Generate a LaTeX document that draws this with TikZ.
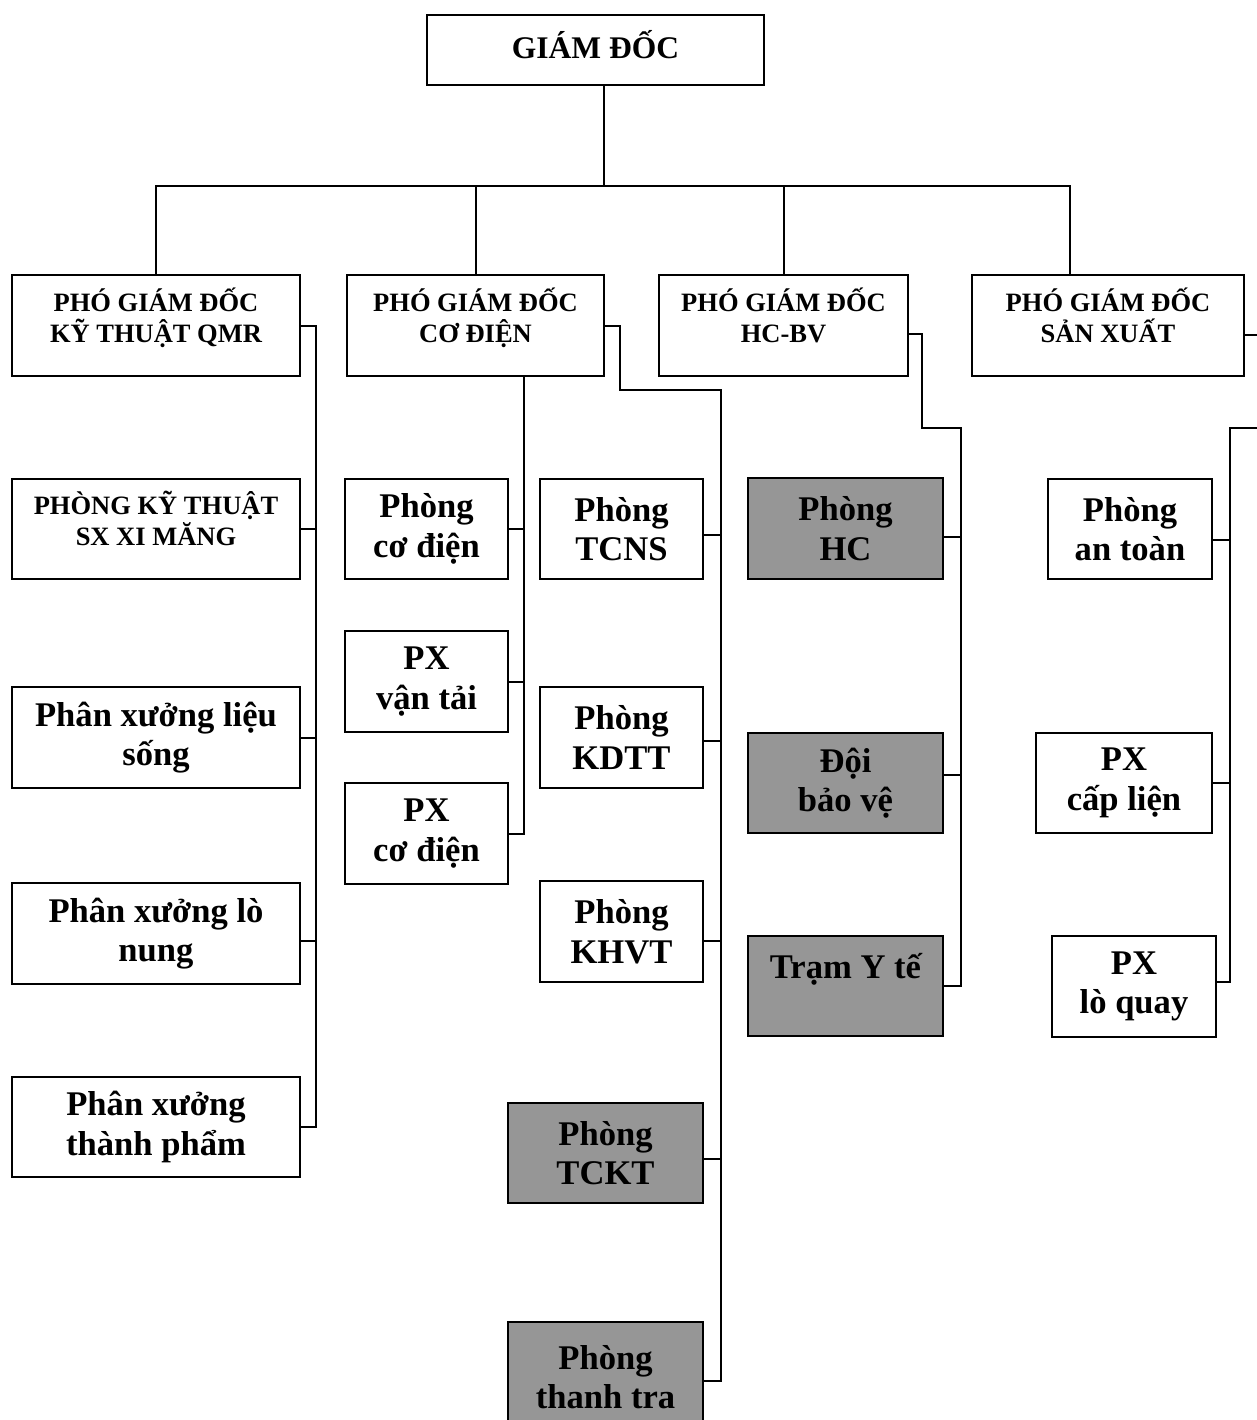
\documentclass[tikz,border=0pt]{standalone}
\usepackage{fontspec}
\setmainfont{Liberation Serif}
\usepackage{tikz}
\usetikzlibrary{positioning,calc}
\definecolor{boxgray}{RGB}{150,150,150}

\begin{document}
\begin{tikzpicture}[x=1pt, y=-1pt, line width=2pt]
\tikzstyle{unit}=[draw=black,line width=2pt,align=center,inner sep=0pt,font=\bfseries\fontsize{34.6}{39.5}\selectfont]
\tikzstyle{head}=[unit,font=\bfseries\fontsize{26.5}{31}\selectfont]
\tikzstyle{shaded}=[unit,fill=boxgray]
\useasboundingbox (0,0) rectangle (1256,1420);

\node[unit,font=\bfseries\fontsize{31.5}{36}\selectfont,minimum width=337,minimum height=70] (gd) at (595.5,50) {GIÁM ĐỐC\\[-24pt]~};

\node[head,minimum width=288,minimum height=101] (pgdkt) at (156,325.5)  {PHÓ GIÁM ĐỐC\\KỸ THUẬT QMR\\[-10pt]~};
\node[head,minimum width=257,minimum height=101] (pgdcd) at (475.5,325.5) {PHÓ GIÁM ĐỐC\\CƠ ĐIỆN\\[-10pt]~};
\node[head,minimum width=249,minimum height=101] (pgdhc) at (783.5,325.5) {PHÓ GIÁM ĐỐC\\HC-BV\\[-10pt]~};
\node[head,minimum width=272,minimum height=101] (pgdsx) at (1108,325.5)  {PHÓ GIÁM ĐỐC\\SẢN XUẤT\\[-10pt]~};

\node[head,minimum width=288,minimum height=100] (kt) at (156,529)   {PHÒNG KỸ THUẬT\\SX XI MĂNG\\[-10pt]~};
\node[unit,minimum width=288,minimum height=101] (ls) at (156,737.5) {Phân xưởng liệu\\sống};
\node[unit,minimum width=288,minimum height=101] (ln) at (156,933.5) {Phân xưởng lò\\nung};
\node[unit,minimum width=288,minimum height=100] (tp) at (156,1127)  {Phân xưởng\\thành phẩm};

\node[unit,minimum width=163,minimum height=100] (pcd)  at (426.5,529)   {Phòng\\cơ điện};
\node[unit,minimum width=163,minimum height=101] (pxvt) at (426.5,681.5) {PX\\vận tải};
\node[unit,minimum width=163,minimum height=101] (pxcd) at (426.5,833.5) {PX\\cơ điện};

\node[unit,minimum width=163,minimum height=100]   (tcns) at (621.5,529)   {Phòng\\TCNS};
\node[unit,minimum width=163,minimum height=101]   (kdtt) at (621.5,737.5) {Phòng\\KDTT};
\node[unit,minimum width=163,minimum height=101]   (khvt) at (621.5,931.5) {Phòng\\KHVT};
\node[shaded,minimum width=195,minimum height=100] (tckt) at (605.5,1153)  {Phòng\\TCKT};
\node[shaded,minimum width=195,minimum height=110] (ttra) at (605.5,1377)  {Phòng\\thanh tra};

\node[shaded,minimum width=195,minimum height=101] (phc) at (845.5,528.5) {Phòng\\HC};
\node[shaded,minimum width=195,minimum height=100] (dbv) at (845.5,783)   {Đội\\bảo vệ};
\node[shaded,minimum width=195,minimum height=100] (tyt) at (845.5,986)   {Trạm Y tế\\~};

\node[unit,minimum width=164,minimum height=100] (at)   at (1130,529)   {Phòng\\an toàn};
\node[unit,minimum width=176,minimum height=100] (pxcl) at (1124,783)   {PX\\cấp liện};
\node[unit,minimum width=164,minimum height=101] (pxlq) at (1134,986.5) {PX\\lò quay};

\coordinate (bus)    at (604,186);
\coordinate (sxtop)  at (1070,275);
\coordinate (ktbus)  at (316,325.5);
\coordinate (cdbus)  at (524,376);
\coordinate (cdr)    at (620,390);
\coordinate (cdbus2) at (721,390);
\coordinate (hcr)    at (922,428);
\coordinate (hcbus)  at (961,428);
\coordinate (sxr)    at (1270,428);
\coordinate (sxbus)  at (1230,428);

\draw (gd.south -| bus) -- (bus);
\draw (pgdkt.north) |- (bus) -| (sxtop);
\draw (pgdcd.north) -- (pgdcd.north |- bus);
\draw (pgdhc.north) -- (pgdhc.north |- bus);

\draw (pgdkt.east) -- (ktbus) |- (tp.east);
\foreach \n/\d in {kt/0,ls/0,ln/-7} \draw ([yshift=\d]\n.east) -- ([yshift=\d]\n.east -| ktbus);

\draw (cdbus) |- (pxcd.east);
\foreach \n in {pcd,pxvt} \draw (\n.east) -- (\n.east -| cdbus);

\draw (pgdcd.east) -| (cdr) -- (cdbus2) |- ([yshift=-4]ttra.east);
\foreach \n/\d in {tcns/-6,kdtt/-3,khvt/-9,tckt/-6} \draw ([yshift=\d]\n.east) -- ([yshift=\d]\n.east -| cdbus2);

\draw ([yshift=-8]pgdhc.east) -| (hcr) -- (hcbus) |- (tyt.east);
\foreach \n/\d in {phc/-8,dbv/8} \draw ([yshift=\d]\n.east) -- ([yshift=\d]\n.east -| hcbus);

\draw ([yshift=-9]pgdsx.east) -| (sxr) -- (sxbus) |- ([yshift=5]pxlq.east);
\foreach \n/\d in {at/-11,pxcl/0} \draw ([yshift=\d]\n.east) -- ([yshift=\d]\n.east -| sxbus);

\end{tikzpicture}
\end{document}
